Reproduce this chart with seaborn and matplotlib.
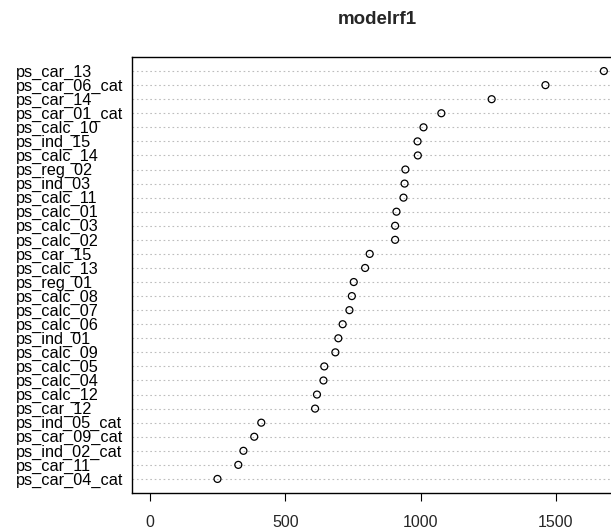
import pandas as pd
import numpy as np
import matplotlib
matplotlib.use("Agg")
import matplotlib.pyplot as plt
import matplotlib.transforms as mtransforms
import seaborn as sns

# variable importance (MeanDecreaseGini), top to bottom as drawn
features = [
    "ps_car_13", "ps_car_06_cat", "ps_car_14", "ps_car_01_cat", "ps_calc_10",
    "ps_ind_15", "ps_calc_14", "ps_reg_02", "ps_ind_03", "ps_calc_11",
    "ps_calc_01", "ps_calc_03", "ps_calc_02", "ps_car_15", "ps_calc_13",
    "ps_reg_01", "ps_calc_08", "ps_calc_07", "ps_calc_06", "ps_ind_01",
    "ps_calc_09", "ps_calc_05", "ps_calc_04", "ps_calc_12", "ps_car_12",
    "ps_ind_05_cat", "ps_car_09_cat", "ps_ind_02_cat", "ps_car_11", "ps_car_04_cat",
]
importance = [
    1678, 1462, 1263, 1077, 1011,
    989, 990, 944, 941, 937,
    911, 906, 906, 812, 795,
    753, 746, 737, 712, 696,
    685, 644, 641, 617, 610,
    411, 385, 345, 326, 249,
]
x_ticks = [0, 500, 1000, 1500]
title = "modelrf1"

df = pd.DataFrame({"feature": features, "importance": importance})

sns.set_style("white")
plt.rcParams["font.family"] = ["Liberation Sans", "DejaVu Sans"]

W, H, DPI = 611, 531, 100
fig = plt.figure(figsize=(W / DPI, H / DPI), dpi=DPI)
# plot region runs past the right edge of the picture, as in the source image
left, right, top, bottom = 132, 622, 57, 493
ax = fig.add_axes([left / W, 1 - bottom / H, (right - left) / W, (bottom - top) / H])

sns.stripplot(data=df, x="importance", y="feature", order=features, jitter=False,
              marker="o", s=5, facecolor="none", edgecolor="black", linewidth=0.9,
              color="black", ax=ax, zorder=3)
# open circles
for coll in ax.collections:
    coll.set_facecolor("none")
    coll.set_edgecolor("black")

xmax = max(importance)
pad = 0.04 * xmax
ax.set_xlim(0 - pad, xmax + pad)
ax.set_ylim(len(features), -1)

ax.grid(axis="y", linestyle=(0, (1.5, 2.5)), color="#bdbdbd", linewidth=0.8)
ax.set_axisbelow(True)

ax.set_xticks(x_ticks)
ax.set_xticklabels([str(t) for t in x_ticks], fontsize=11.5)
ax.tick_params(axis="x", direction="out", length=6, width=0.8, pad=9.5, color="black",
               bottom=True)
ax.tick_params(axis="y", length=0, labelleft=False)
ax.set_xlabel("")
ax.set_ylabel("")

for sp in ax.spines.values():
    sp.set_visible(True)
    sp.set_color("black")
    sp.set_linewidth(1.0)

# row labels left-aligned at the figure's left margin
trans = mtransforms.blended_transform_factory(fig.transFigure, ax.transData)
for i, name in enumerate(features):
    ax.text(16 / W, i + 0.08, name, transform=trans, ha="left", va="center",
            fontsize=11.7, color="black", clip_on=False)

fig.text((left + right) / 2 / W, 1 - 20 / H, title, ha="center", va="center",
         fontsize=13.5, fontweight="bold")

fig.savefig("out.png", dpi=DPI)
